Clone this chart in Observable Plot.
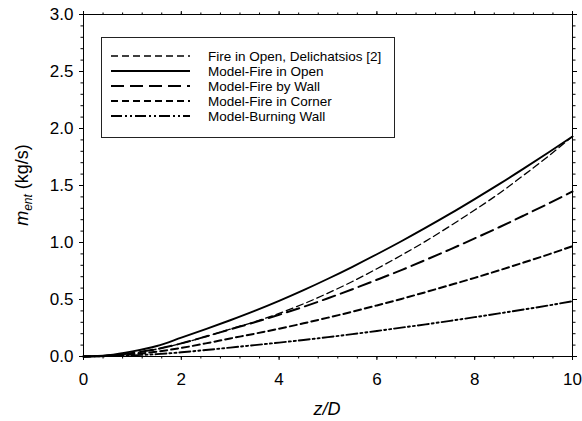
<!DOCTYPE html>
<html><head><meta charset="utf-8">
<script src="https://cdn.jsdelivr.net/npm/d3@7"></script>
<script src="https://cdn.jsdelivr.net/npm/@observablehq/plot@0.6"></script>
<style>
body{margin:0;background:#fff}
#chart{position:relative;width:582px;height:421px}
</style>
</head><body><div id="chart"></div>
<script>
// z/D sample positions
const zD = [0,0.5,1,1.5,2,2.5,3,3.5,4,4.5,5,5.5,6,6.5,7,7.5,8,8.5,9,9.5,10];
// entrained mass flow (kg/s)
const openDelichatsios = [0,0.010,0.030,0.065,0.115,0.175,0.240,0.305,0.378,0.462,0.556,0.658,0.770,0.888,1.012,1.146,1.285,1.430,1.590,1.755,1.930];
const modelOpen        = [0,0.012,0.045,0.092,0.165,0.240,0.318,0.400,0.488,0.582,0.682,0.787,0.897,1.011,1.130,1.253,1.381,1.512,1.648,1.787,1.930];
const modelWall        = [0,0.008,0.030,0.065,0.115,0.175,0.238,0.300,0.366,0.436,0.511,0.590,0.673,0.758,0.848,0.940,1.036,1.134,1.236,1.340,1.447];
const modelCorner      = [0,0.005,0.020,0.043,0.075,0.115,0.158,0.200,0.244,0.291,0.341,0.393,0.448,0.505,0.565,0.627,0.690,0.756,0.824,0.894,0.968];
const modelBurningWall = [0,0.003,0.010,0.021,0.037,0.057,0.078,0.100,0.122,0.145,0.170,0.196,0.224,0.253,0.282,0.313,0.345,0.378,0.412,0.447,0.485];

const seriesNames = ["Fire in Open, Delichatsios [2]","Model-Fire in Open","Model-Fire by Wall","Model-Fire in Corner","Model-Burning Wall"];
const seriesValues = [openDelichatsios, modelOpen, modelWall, modelCorner, modelBurningWall];
const seriesStyle = [
  {strokeWidth:1.3, dash:"7,4"},
  {strokeWidth:1.9, dash:null},
  {strokeWidth:2,   dash:"13,6"},
  {strokeWidth:2,   dash:"7,4"},
  {strokeWidth:1.9, dash:"11,3,2,3,2,3"}
];

const xMajorTicks = [0,2,4,6,8,10];
const xMinorTicks = [0,0.4,0.8,1.2,1.6,2,2.4,2.8,3.2,3.6,4,4.4,4.8,5.2,5.6,6,6.4,6.8,7.2,7.6,8,8.4,8.8,9.2,9.6,10];
const yMajorTicks = [0,0.5,1.0,1.5,2.0,2.5,3.0];
const yMinorTicks = [0,0.1,0.2,0.3,0.4,0.5,0.6,0.7,0.8,0.9,1.0,1.1,1.2,1.3,1.4,1.5,1.6,1.7,1.8,1.9,2.0,2.1,2.2,2.3,2.4,2.5,2.6,2.7,2.8,2.9,3.0];

const font = "'Liberation Sans', Arial, Helvetica, sans-serif";
const blank = () => "";

const lineMarks = seriesValues.map((vals, k) =>
  Plot.line(zD.map((x, i) => ({x, y: vals[i]})), {
    x: "x", y: "y", stroke: "black",
    strokeWidth: seriesStyle[k].strokeWidth,
    strokeDasharray: seriesStyle[k].dash,
    curve: "monotone-x"
  })
);

const chart = Plot.plot({
  width: 582, height: 421,
  marginLeft: 83, marginRight: 10, marginTop: 14, marginBottom: 65,
  style: {fontFamily: font, background: "white", color: "black"},
  x: {domain: [0, 10], axis: null},
  y: {domain: [0, 3], axis: null},
  marks: [
    ...lineMarks,
    Plot.frame({stroke: "black", strokeWidth: 1}),
    Plot.axisX(xMajorTicks, {anchor: "bottom", tickSize: 4, tickPadding: 12, fontSize: 17, tickFormat: d => String(d), label: null}),
    Plot.axisX(xMinorTicks, {anchor: "bottom", tickSize: 2.5, tickFormat: blank, label: null}),
    Plot.axisX(xMajorTicks, {anchor: "top", tickSize: 4, tickFormat: blank, label: null}),
    Plot.axisX(xMinorTicks, {anchor: "top", tickSize: 2.5, tickFormat: blank, label: null}),
    Plot.axisY(yMajorTicks, {anchor: "left", tickSize: 4, tickPadding: 6, fontSize: 17, tickFormat: d3.format(".1f"), label: null}),
    Plot.axisY(yMinorTicks, {anchor: "left", tickSize: 2.5, tickFormat: blank, label: null}),
    Plot.axisY(yMajorTicks, {anchor: "right", tickSize: 4, tickFormat: blank, label: null}),
    Plot.axisY(yMinorTicks, {anchor: "right", tickSize: 2.5, tickFormat: blank, label: null})
  ]
});

document.getElementById("chart").appendChild(chart);
const svg = d3.select(chart);

// axis titles
svg.append("text")
  .attr("x", 327).attr("y", 415)
  .attr("text-anchor", "middle")
  .style("font-family", font).style("font-size", "18px").style("font-style", "italic")
  .text("z/D");

const yt = svg.append("text")
  .attr("transform", "translate(28,185) rotate(-90)")
  .attr("text-anchor", "middle")
  .style("font-family", font).style("font-size", "18px");
yt.append("tspan").style("font-style", "italic").text("m");
yt.append("tspan").style("font-style", "italic").style("font-size", "12px").attr("dy", 4).text("ent");
yt.append("tspan").attr("dy", -4).text(" (kg/s)");

// legend
const lg = svg.append("g");
lg.append("rect").attr("x", 101.5).attr("y", 37.5).attr("width", 293).attr("height", 100)
  .attr("fill", "white").attr("stroke", "#222").attr("stroke-width", 1);
const rowY = [56, 71, 86, 101, 116];
seriesNames.forEach((name, k) => {
  const l = lg.append("line").attr("x1", 111).attr("x2", 190).attr("y1", rowY[k]).attr("y2", rowY[k])
    .attr("stroke", "black").attr("stroke-width", seriesStyle[k].strokeWidth);
  if (seriesStyle[k].dash) l.attr("stroke-dasharray", seriesStyle[k].dash);
  lg.append("text").attr("x", 208).attr("y", rowY[k]).attr("dy", "0.35em")
    .attr("text-anchor", "start")
    .style("font-family", font).style("font-size", "13.5px").text(name);
});
</script>
</body></html>
